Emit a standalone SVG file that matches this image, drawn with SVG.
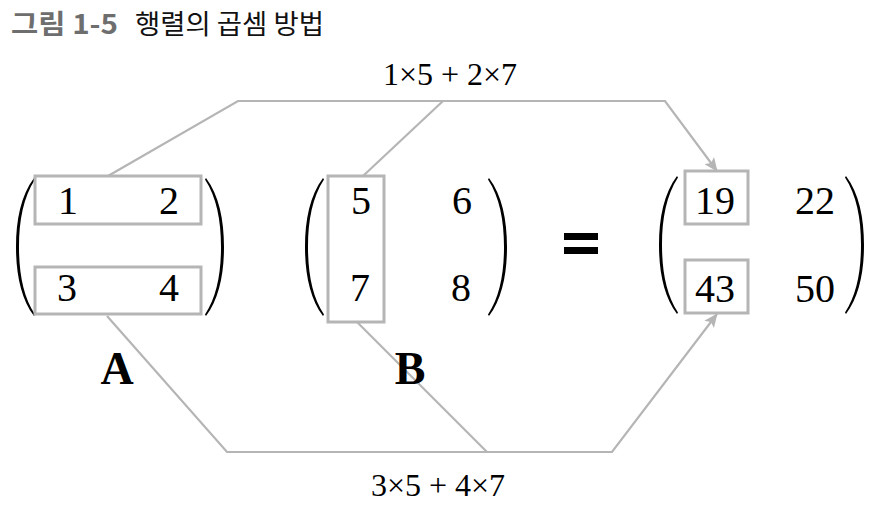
<svg xmlns="http://www.w3.org/2000/svg" width="876" height="506" viewBox="0 0 876 506">
<defs>
<style>
.num{font-family:"Liberation Serif",serif;font-size:40px;fill:#000;text-anchor:middle}
.lbl{font-family:"Liberation Serif",serif;font-size:32px;fill:#000;text-anchor:middle}
.big{font-family:"Liberation Serif",serif;font-size:46px;font-weight:bold;fill:#000;text-anchor:middle}
.box{fill:none;stroke:#b5b5b5;stroke-width:3}
.con{fill:none;stroke:#b5b5b5;stroke-width:2.2}
.par{fill:#000}
</style>
<marker id="arr" markerWidth="14" markerHeight="12" refX="13" refY="6" orient="auto" markerUnits="userSpaceOnUse" viewBox="0 0 14 12">
<path d="M0,0 L14,6 L0,12 L3,6 Z" fill="#b5b5b5"/>
</marker>
<path id="lp" d="M0,0 C-13,17 -18,42 -18,69 C-18,96 -13,121 0,138 L1,136.5 C-10.5,119 -15,96 -15,69 C-15,42 -10.5,19 1,1.5 Z"/>
<path id="rp" d="M0,0 C13,17 18,42 18,69 C18,96 13,121 0,138 L-1,136.5 C10.5,119 15,96 15,69 C15,42 10.5,19 -1,1.5 Z"/>
</defs>
<rect width="876" height="506" fill="#fff"/>
<g id="title">
<text x="11" y="34" font-family="'Noto Sans CJK KR',sans-serif" font-size="27" font-weight="bold" fill="#6e6e6e" textLength="107" lengthAdjust="spacingAndGlyphs">그림 1-5</text>
<text x="135" y="34" font-family="'Noto Sans CJK KR',sans-serif" font-size="27" fill="#111" textLength="189" lengthAdjust="spacingAndGlyphs">행렬의 곱셈 방법</text>
</g>
<g id="connectors">
<polyline class="con" points="108,176 238,101 665,101 717,171" marker-end="url(#arr)"/>
<line class="con" x1="363" y1="176" x2="443" y2="101"/>
<polyline class="con" points="107,316 227,452 612,452 717,314" marker-end="url(#arr)"/>
<line class="con" x1="357" y1="322" x2="487" y2="452"/>
<text class="lbl" x="450" y="85">1×5 + 2×7</text>
<text class="lbl" x="438" y="496">3×5 + 4×7</text>
</g>
<g id="matrixA">
<use href="#lp" class="par" x="34" y="178"/>
<use href="#rp" class="par" x="206" y="178"/>
<rect class="box" x="35" y="176" width="166" height="48"/>
<rect class="box" x="35" y="267" width="166" height="47"/>
<text class="num" x="68" y="214">1</text>
<text class="num" x="169" y="214">2</text>
<text class="num" x="67" y="301">3</text>
<text class="num" x="169" y="301">4</text>
<text class="big" x="117" y="384">A</text>
</g>
<g id="matrixB">
<use href="#lp" class="par" x="323" y="178"/>
<use href="#rp" class="par" x="489" y="178"/>
<rect class="box" x="328" y="176" width="56" height="146"/>
<text class="num" x="361" y="214">5</text>
<text class="num" x="462" y="214">6</text>
<text class="num" x="360" y="301">7</text>
<text class="num" x="461" y="301">8</text>
<text class="big" x="410" y="384">B</text>
</g>
<g id="equals">
<rect x="564" y="233" width="34" height="7" fill="#000"/>
<rect x="564" y="247" width="34" height="7" fill="#000"/>
</g>
<g id="matrixC">
<use href="#lp" class="par" x="677" y="176"/>
<use href="#rp" class="par" x="846" y="176"/>
<rect class="box" x="685" y="171" width="63" height="53"/>
<rect class="box" x="685" y="260" width="63" height="53"/>
<text class="num" x="715" y="214">19</text>
<text class="num" x="815" y="214">22</text>
<text class="num" x="715" y="302">43</text>
<text class="num" x="815" y="302">50</text>
</g>
</svg>
